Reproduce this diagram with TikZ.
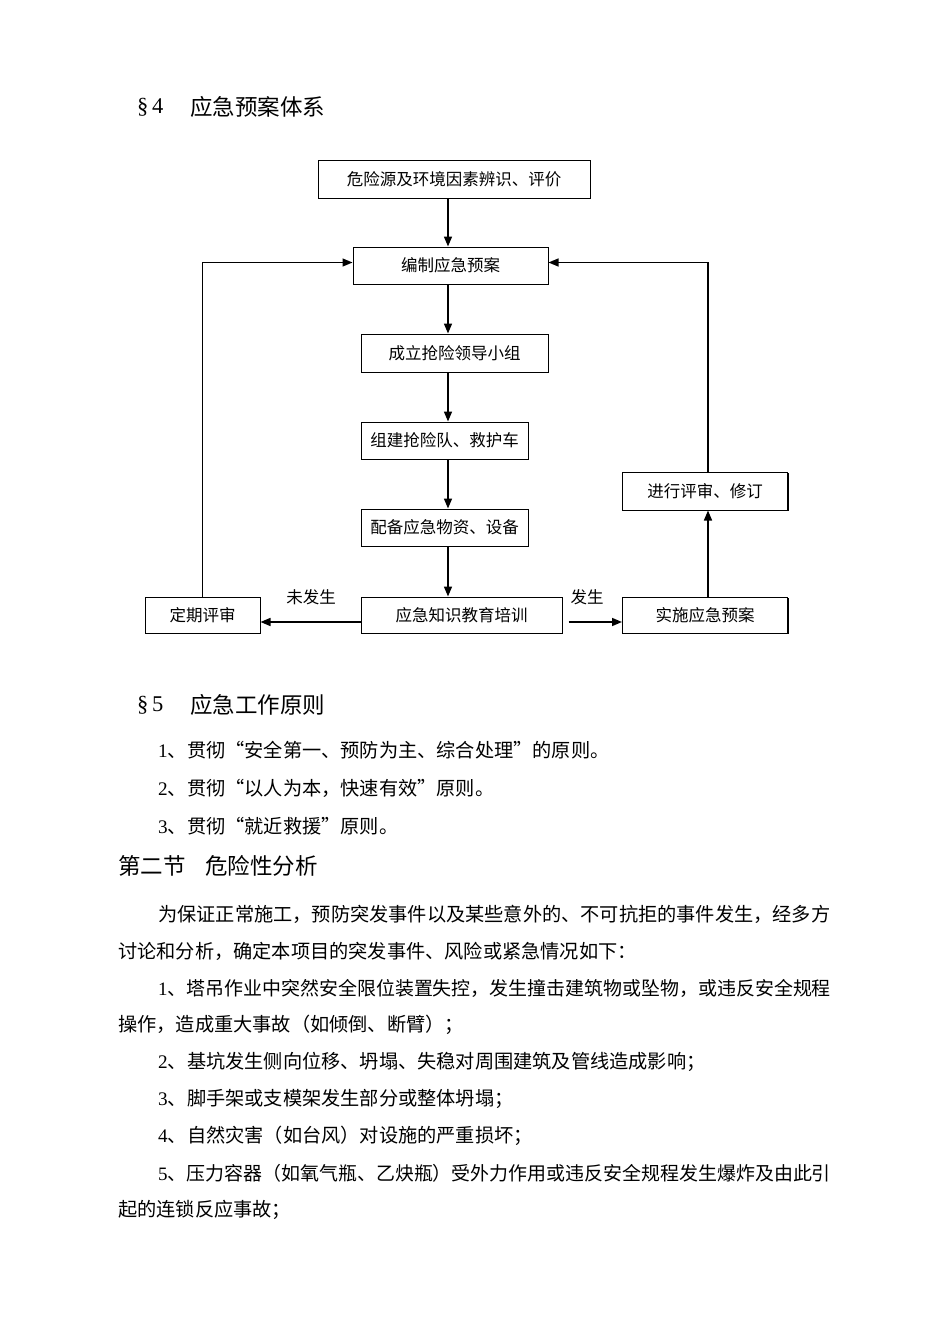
\documentclass[tikz,border=0pt]{standalone}
\usepackage{fontspec}
\setmainfont{Noto Sans CJK SC}
\newfontfamily\lat{Liberation Serif}
\usetikzlibrary{arrows.meta,shadows}
\begin{document}
\begin{tikzpicture}[x=1pt,y=-1pt,
  box/.style={draw,line width=1pt,fill=white,inner sep=0pt,
    font=\fontsize{16.5}{18}\selectfont,
    drop shadow={shadow xshift=1.3pt,shadow yshift=-1.3pt,opacity=1,fill=black}},
  arr/.style={line width=1.6pt,-{Triangle[length=10pt,width=8pt]}},
  loopline/.style={line width=1.3pt,-{Triangle[length=10pt,width=8pt]}},
  lbl/.style={font=\fontsize{16.5}{18}\selectfont,inner sep=0pt},
  body/.style={anchor=west,inner sep=0pt,font=\fontsize{19.2}{22}\selectfont},
  bodyn/.style={anchor=west,inner sep=0pt,font=\fontsize{18.95}{22}\selectfont},
  head/.style={anchor=west,inner sep=0pt,font=\fontsize{22.5}{26}\selectfont}]
\useasboundingbox[fill=white] (0,0) rectangle (950,1344);

% headings
\node[head] (h4a) at (137,107) {{\lat §\,4}};
\node[head] (h4b) at (190,107) {应急预案体系};

% flowchart
\coordinate (spine) at (448,0);
\node[box,minimum width=272,minimum height=38] (b1) at (454,179) {危险源及环境因素辨识、评价};
\node[box,minimum width=195,minimum height=37] (b2) at (450.5,265.5) {编制应急预案};
\node[box,minimum width=187,minimum height=38] (b3) at (454.5,353) {成立抢险领导小组};
\node[box,minimum width=167,minimum height=37] (b4) at (444.5,440.5) {组建抢险队、救护车};
\node[box,minimum width=167,minimum height=37] (b5) at (444.5,527.5) {配备应急物资、设备};
\node[box,minimum width=201,minimum height=36] (b6) at (461.5,615) {应急知识教育培训};
\node[box,minimum width=115,minimum height=36] (b7) at (202.5,615) {定期评审};
\node[box,minimum width=165,minimum height=36] (b8) at (705,615) {实施应急预案};
\node[box,minimum width=165,minimum height=38] (b9) at (705,491) {进行评审、修订};

\draw[arr] (b1.south -| spine) -- (b2.north -| spine);
\draw[arr] (b2.south -| spine) -- (b3.north -| spine);
\draw[arr] (b3.south -| spine) -- (b4.north -| spine);
\draw[arr] (b4.south -| spine) -- (b5.north -| spine);
\draw[arr] (b5.south -| spine) -- (b6.north -| spine);

\draw[loopline] (b7.north) |- ([yshift=3pt]b2.west);
\draw[loopline] ([xshift=3pt]b9.north) |- ([yshift=3pt]b2.east);
\draw[arr] ([xshift=3pt]b8.north) -- ([xshift=3pt]b9.south);
\draw[arr] ([yshift=-7pt]b6.west) -- ([yshift=-7pt]b7.east);
\draw[arr] ([xshift=6pt,yshift=-7pt]b6.east) -- ([yshift=-7pt]b8.west);

\node[lbl] (l1) at (311,597) {未发生};
\node[lbl] (l2) at (587,597) {发生};

% section 5
\node[head] (h5a) at (137,705) {{\lat §\,5}};
\node[head] (h5b) at (190,705) {应急工作原则};
\node[body] (p1) at (158,750) {{\lat 1}、贯彻“安全第一、预防为主、综合处理”的原则。};
\node[body] (p2) at (158,788) {{\lat 2}、贯彻“以人为本，快速有效”原则。};
\node[body] (p3) at (158,826) {{\lat 3}、贯彻“就近救援”原则。};

\node[head] (s2a) at (118,866) {第二节};
\node[head] (s2b) at (205,866) {危险性分析};

\node[body] (t1) at (158,914) {为保证正常施工，预防突发事件以及某些意外的、不可抗拒的事件发生，经多方};
\node[body] (t2) at (118,951) {讨论和分析，确定本项目的突发事件、风险或紧急情况如下：};
\node[bodyn] (t3) at (158,988) {{\lat 1}、塔吊作业中突然安全限位装置失控，发生撞击建筑物或坠物，或违反安全规程};
\node[body] (t4) at (118,1025) {操作，造成重大事故（如倾倒、断臂）；};
\node[body] (t5) at (158,1062) {{\lat 2}、基坑发生侧向位移、坍塌、失稳对周围建筑及管线造成影响；};
\node[body] (t6) at (158,1099) {{\lat 3}、脚手架或支模架发生部分或整体坍塌；};
\node[body] (t7) at (158,1136) {{\lat 4}、自然灾害（如台风）对设施的严重损坏；};
\node[bodyn] (t8) at (158,1173) {{\lat 5}、压力容器（如氧气瓶、乙炔瓶）受外力作用或违反安全规程发生爆炸及由此引};
\node[body] (t9) at (118,1210) {起的连锁反应事故；};
\end{tikzpicture}
\end{document}
